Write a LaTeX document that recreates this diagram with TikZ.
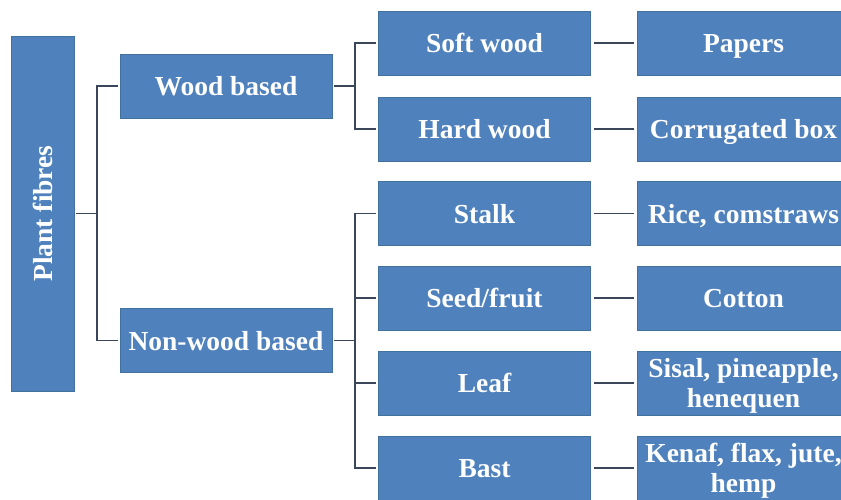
\documentclass[tikz,border=0pt]{standalone}
\usepackage{fontspec}
\setmainfont{Liberation Serif}
\definecolor{boxblue}{HTML}{4F81BD}
\definecolor{boxedge}{HTML}{41719C}
\definecolor{linegray}{HTML}{3A475A}
\tikzset{
  fibrebox/.style={draw=boxedge, fill=boxblue, text=white, line width=0.8pt,
    font=\bfseries\fontsize{27.5}{30}\selectfont, align=center, inner sep=0pt,
    text depth=0pt, minimum width=212pt, minimum height=64pt},
  link/.style={draw=linegray, line width=1.8pt}
}
\begin{document}
\begin{tikzpicture}[x=1pt,y=-1pt]
\useasboundingbox (0,0) rectangle (841,500);
\clip (0,0) rectangle (841,500);
\fill[white] (0,0) rectangle (841,500);

\node[fibrebox, minimum width=63pt, minimum height=355pt] (plant) at (42.5,213.5) {\rotatebox{90}{Plant fibres}};
\node[fibrebox] (wood) at (226,86) {Wood based};
\node[fibrebox] (nonwood) at (226,340.5) {Non-wood based};

\foreach \i/\y/\kind/\use in {1/43/Soft wood/Papers, 2/129/Hard wood/Corrugated box,
    3/213.5/Stalk/{Rice, comstraws}, 4/298/Seed\slash fruit/Cotton,
    5/383/Leaf/{Sisal, pineapple,\\henequen}, 6/468/Bast/{Kenaf, flax, jute,\\hemp}} {
  \node[fibrebox] (kind\i) at (484.5,\y) {\kind};
  \node[fibrebox] (use\i) at (743.5,\y) {\use};
  \draw[link] ([xshift=3pt]kind\i.east) -- ([xshift=-3pt]use\i.west);
}

\draw[link] ([xshift=2pt]plant.east) -- ++(21,0);
\draw[link] ([xshift=-2pt]wood.west) -- ++(-21,0) |- ([xshift=-2pt]nonwood.west);
\draw[link] ([xshift=2pt]wood.east) -- ++(21,0);
\draw[link] ([xshift=-2pt]kind1.west) -- ++(-21,0) |- ([xshift=-2pt]kind2.west);
\draw[link] ([xshift=2pt]nonwood.east) -- ++(21,0);
\draw[link] ([xshift=-2pt]kind3.west) -- ++(-21,0) |- ([xshift=-2pt]kind6.west);
\draw[link] ([xshift=-2pt]kind4.west) -- ++(-21,0);
\draw[link] ([xshift=-2pt]kind5.west) -- ++(-21,0);

\end{tikzpicture}
\end{document}
